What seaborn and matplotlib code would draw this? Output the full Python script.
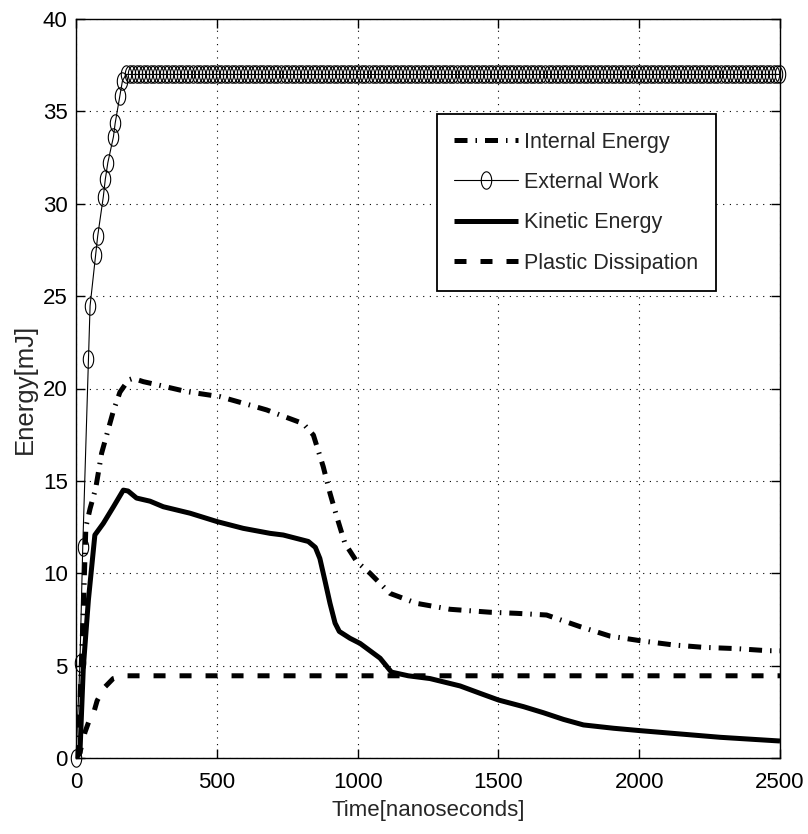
import numpy as np
import pandas as pd
import matplotlib
matplotlib.use("Agg")
import matplotlib.pyplot as plt
from matplotlib.path import Path
import seaborn as sns

# ---- energy histories (time in ns, energy in mJ) ----
internal_t = [0, 14, 26, 35, 50, 70, 91, 133, 156, 186, 203, 239, 292, 393, 511,
              618, 677, 724, 807, 843, 878, 902, 926, 955, 997, 1044, 1115, 1210,
              1328, 1470, 1565, 1671, 1790, 1896, 2003, 2121, 2228, 2346, 2453, 2500]
internal_e = [0, 3.0, 8.0, 12.5, 13.5, 14.6, 16.5, 18.8, 19.8, 20.46, 20.55, 20.37,
              20.19, 19.83, 19.56, 19.1, 18.84, 18.57, 18.1, 17.48, 15.77, 14.33,
              13.06, 11.62, 10.63, 10.0, 8.91, 8.37, 8.05, 7.89, 7.83, 7.74, 7.11,
              6.6, 6.35, 6.12, 5.99, 5.92, 5.81, 5.8]

external_t_ramp = [0, 14, 24, 44, 50, 70, 77, 97, 104, 113, 133, 139, 156, 165]
external_e_ramp = [0, 5.13, 11.44, 21.6, 24.47, 27.23, 28.25, 30.38, 31.32, 32.22,
                   33.63, 34.35, 35.85, 36.66]
external_plateau = 37.0
external_t_plateau = list(np.arange(178, 2500, 12.5)) + [2500]

kinetic_t = [0, 14, 26, 44, 67, 97, 133, 168, 185, 215, 263, 310, 405, 500, 594,
             689, 736, 825, 850, 866, 884, 902, 920, 935, 973, 1009, 1080, 1120,
             1180, 1257, 1364, 1435, 1500, 1589, 1660, 1731, 1802, 1909, 2004, 2146,
             2288, 2478, 2500]
kinetic_e = [0, 0.27, 4.9, 8.55, 12.07, 12.7, 13.6, 14.5, 14.45, 14.07, 13.9, 13.6,
             13.25, 12.8, 12.43, 12.16, 12.07, 11.72, 11.4, 10.8, 9.6, 8.37, 7.3,
             6.85, 6.48, 6.2, 5.4, 4.65, 4.45, 4.3, 3.9, 3.5, 3.14, 2.78, 2.45, 2.09,
             1.79, 1.61, 1.48, 1.3, 1.12, 0.94, 0.92]

plastic_t = [0, 14, 32, 45, 60, 75, 100, 132, 170, 2500]
plastic_e = [0, 0.3, 1.4, 1.95, 2.3, 3.1, 3.8, 4.3, 4.45, 4.45]

labels = ["Internal Energy", "External Work", "Kinetic Energy", "Plastic Dissipation"]
x_ticks = [0, 500, 1000, 1500, 2000, 2500]
y_ticks = [0, 5, 10, 15, 20, 25, 30, 35, 40]

external_t = external_t_ramp + external_t_plateau
external_e = external_e_ramp + [external_plateau] * len(external_t_plateau)

sns.set_theme(style="white")
plt.rcParams["font.family"] = ["Liberation Sans", "DejaVu Sans"]
plt.rcParams["axes.linewidth"] = 1.0
plt.rcParams["axes.edgecolor"] = "black"

fig = plt.figure(figsize=(8.08, 8.34), dpi=100)
ax = fig.add_axes([76 / 808, 76 / 834, 704 / 808, 739 / 834])

# tall open ellipse used as the marker of the work curve
theta = np.linspace(0, 2 * np.pi, 60)
ellipse = Path(np.column_stack([0.6 * np.cos(theta), np.sin(theta)]), closed=True)

lw = 3.6
sns.lineplot(x=internal_t, y=internal_e, ax=ax, sort=False, estimator=None,
             color="black", linewidth=lw, label=labels[0])
ax.lines[-1].set_dashes((2.6, 1.6, 0.3, 1.6))
ax.lines[-1].set_dash_capstyle("butt")

sns.lineplot(x=external_t, y=external_e, ax=ax, sort=False, estimator=None,
             color="black", linewidth=0.8, marker=ellipse, markersize=12.5,
             markerfacecolor="none", markeredgecolor="black", markeredgewidth=0.8,
             label=labels[1], clip_on=False)

sns.lineplot(x=kinetic_t, y=kinetic_e, ax=ax, sort=False, estimator=None,
             color="black", linewidth=lw, label=labels[2])
ax.lines[-1].set_solid_capstyle("butt")

sns.lineplot(x=plastic_t, y=plastic_e, ax=ax, sort=False, estimator=None,
             color="black", linewidth=lw, label=labels[3])
ax.lines[-1].set_dashes((2.4, 2.8))
ax.lines[-1].set_dash_capstyle("butt")

ax.set_xlim(0, 2500)
ax.set_ylim(0, 40)
ax.set_xticks(x_ticks)
ax.set_yticks(y_ticks)
ax.set_xticklabels([str(v) for v in x_ticks])
ax.set_yticklabels([str(v) for v in y_ticks])
ax.tick_params(direction="in", length=6.5, width=1.0, labelsize=16, colors="black",
               top=True, right=True, bottom=True, left=True)
ax.tick_params(axis="x", pad=10)
ax.tick_params(axis="y", pad=6)
for s in ax.spines.values():
    s.set_visible(True)
    s.set_color("black")
    s.set_linewidth(1.0)

ax.grid(True, color="black", linestyle=(0, (1, 5)), linewidth=0.8)
ax.set_axisbelow(True)

ax.set_xlabel("Time[nanoseconds]", fontsize=16, labelpad=5)
ax.set_ylabel("Energy[mJ]", fontsize=18.5, labelpad=4)

handles = ax.get_legend_handles_labels()[0]
leg = ax.legend(handles, labels, loc="upper left", bbox_to_anchor=(0.513, 0.871),
                borderaxespad=0, fontsize=15.5, frameon=True, fancybox=False,
                edgecolor="black", framealpha=1, handlelength=2.95,
                handletextpad=0.3, labelspacing=0.9, borderpad=0.8)
leg.get_frame().set_linewidth(1.3)

fig.savefig("out.png", dpi=100, facecolor="white")
